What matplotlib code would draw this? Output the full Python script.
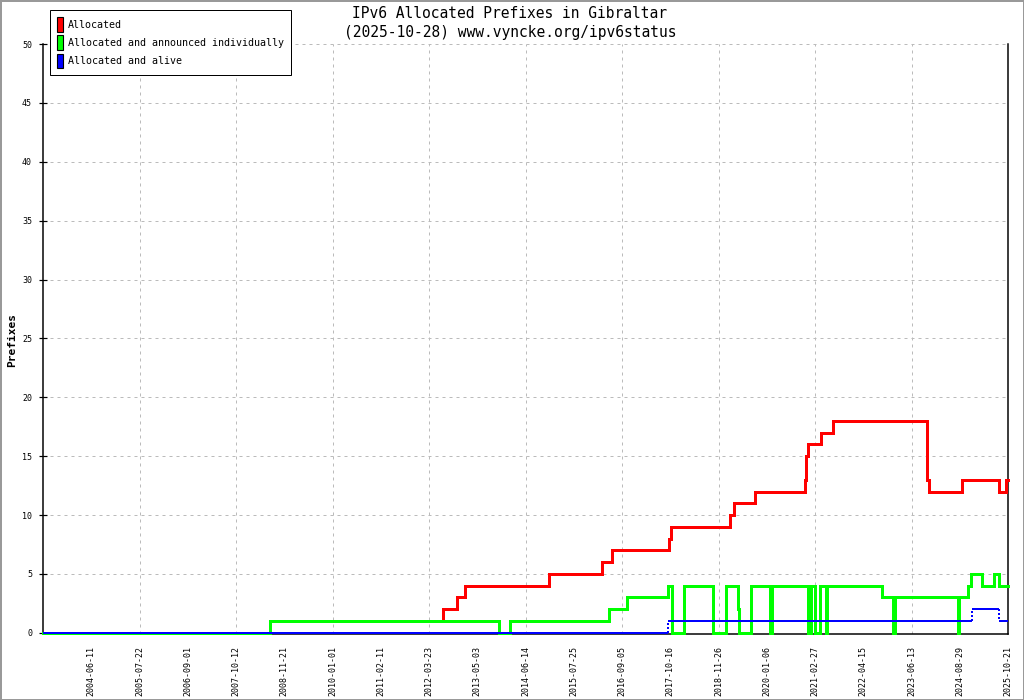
import matplotlib
matplotlib.use("Agg")
import matplotlib.pyplot as plt
from matplotlib.patches import Patch, Rectangle

# ---- data (x in label-index units: label k sits at x=k) ----
tick_labels = ["2004-06-11", "2005-07-22", "2006-09-01", "2007-10-12", "2008-11-21",
               "2010-01-01", "2011-02-11", "2012-03-23", "2013-05-03", "2014-06-14",
               "2015-07-25", "2016-09-05", "2017-10-16", "2018-11-26", "2020-01-06",
               "2021-02-27", "2022-04-15", "2023-06-13", "2024-08-29", "2025-10-21"]

red_x = [0, 4.71, 8.29, 8.58, 8.75, 10.48, 11.59, 11.80, 12.97, 13.02, 14.24, 14.32,
         14.76, 15.79, 15.82, 15.86, 16.12, 16.38, 18.33, 18.36, 19.05, 19.81, 19.96, 20.0]
red_y = [0, 1, 2, 3, 4, 5, 6, 7, 8, 9, 10, 11,
         12, 13, 15, 16, 17, 18, 13, 12, 13, 12, 13, 13]

green_x = [0, 4.71, 9.45, 9.67, 11.74, 12.11, 12.95, 13.03, 13.28, 13.88,
           14.15, 14.40, 14.43, 14.67, 15.06, 15.10, 15.86, 15.92, 16.01, 16.11,
           16.22, 16.24, 17.39, 17.62, 17.65, 18.96, 18.99, 19.18, 19.24, 19.46,
           19.71, 19.81, 20.0]
green_y = [0, 1, 0, 1, 2, 3, 4, 0, 4, 0,
           4, 2, 0, 4, 0, 4, 0, 4, 0, 4,
           0, 4, 3, 0, 3, 0, 3, 4, 5, 4,
           5, 4, 4]

blue_x = [0, 12.95, 19.25, 19.81, 20.0]
blue_y = [0, 1, 2, 1, 1]

series_names = ["Allocated", "Allocated and announced individually", "Allocated and alive"]
series_colors = ["#ff0000", "#00ff00", "#0000ff"]

MONO = "DejaVu Sans Mono"
plt.rcParams['font.family'] = MONO

fig = plt.figure(figsize=(10.24, 7.0), dpi=100)
ax = fig.add_axes([43/1024, 1-634/700, (1008-43)/1024, (634-44)/700])

px = 72/100.0  # points per pixel

ax.step(red_x, red_y, where='post', color=series_colors[0], lw=3*px, zorder=3,
        solid_joinstyle='miter', clip_on=False)
ax.step(green_x, green_y, where='post', color=series_colors[1], lw=3*px, zorder=4,
        solid_joinstyle='miter', clip_on=False)
# blue: solid horizontal segments, dotted transitions
for i in range(len(blue_x) - 1):
    ax.hlines(blue_y[i], blue_x[i], blue_x[i+1], color=series_colors[2], lw=2*px,
              zorder=5, clip_on=False)
for i in range(1, len(blue_x) - 1):
    ax.vlines(blue_x[i], blue_y[i-1], blue_y[i], color=series_colors[2], lw=2*px,
              linestyles=(0, (1, 1)), zorder=5, clip_on=False)

ax.set_xlim(0, 20)
ax.set_ylim(-0.1, 50)

ax.set_xticks(range(1, 21))
ax.set_xticklabels(tick_labels, rotation=90, fontsize=6, family=MONO)
ax.set_xticks(range(2, 21, 2), minor=True)
ax.tick_params(axis='x', which='major', length=0, pad=9)
ax.tick_params(axis='x', which='minor', length=8*px, direction='inout', width=1.2*px)

ax.set_yticks(range(0, 51, 5))
ax.set_yticklabels([str(v) for v in range(0, 51, 5)], fontsize=6, family=MONO)
ax.tick_params(axis='y', length=8*px, direction='inout', width=1.2*px, pad=5)

ax.grid(False)
for v in range(5, 51, 5):
    ax.axhline(v, color='#bbbbbb', lw=1*px, linestyle=(0, (3, 4)), zorder=1)
for v in range(2, 21, 2):
    ax.axvline(v, color='#bbbbbb', lw=1*px, linestyle=(0, (3, 4)), zorder=1)

ax.spines['top'].set_visible(False)
for s in ['left', 'bottom', 'right']:
    ax.spines[s].set_color('black')
    ax.spines[s].set_linewidth(1.5*px)
    ax.spines[s].set_zorder(2)

fig.text(510/1024, 1-14/700, "IPv6 Allocated Prefixes in Gibraltar", ha='center', va='center',
         fontsize=10.5, family=MONO)
fig.text(510/1024, 1-32/700, "(2025-10-28) www.vyncke.org/ipv6status", ha='center', va='center',
         fontsize=10.5, family=MONO)
fig.text(12/1024, 1-340/700, "Prefixes", rotation=90, ha='center', va='center',
         fontsize=8, fontweight='bold', family=MONO)

handles = [Patch(facecolor=c, edgecolor='black', linewidth=0.8) for c in series_colors]
leg = fig.legend(handles, series_names, loc='upper left',
                 bbox_to_anchor=(50/1024, 1-10/700), prop={'family': MONO, 'size': 7.2},
                 handlelength=0.6, handleheight=1.9, handletextpad=0.5, labelspacing=0.35,
                 borderpad=0.7, borderaxespad=0, fancybox=False, framealpha=1,
                 edgecolor='black')
leg.get_frame().set_linewidth(1.0*px)

fig.patches.append(Rectangle((0, 0), 1, 1, transform=fig.transFigure, fill=False,
                             edgecolor='#999999', linewidth=3*px))

fig.savefig("out.png", dpi=100)
